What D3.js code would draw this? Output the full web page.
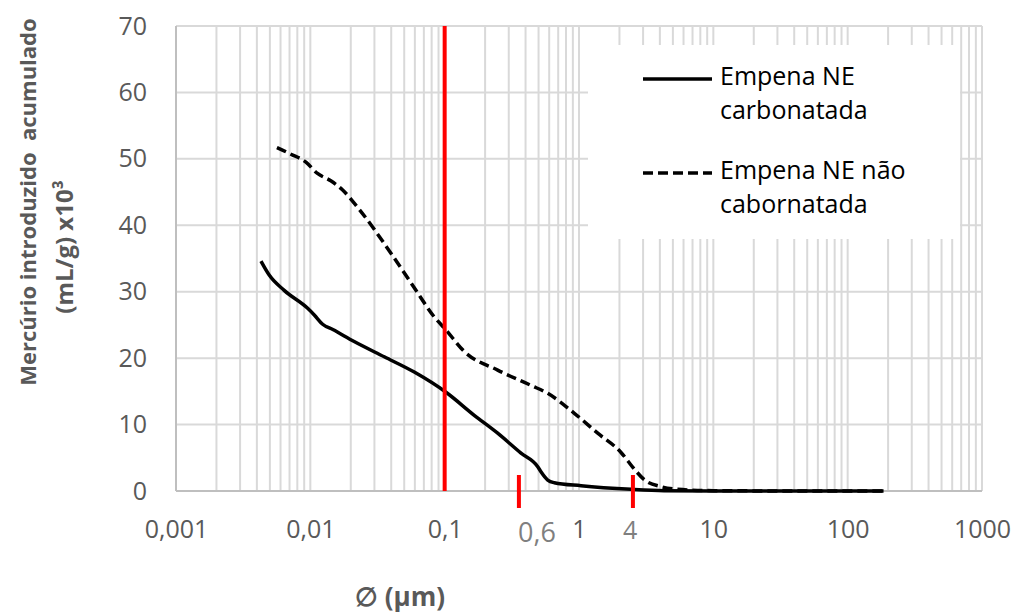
<!DOCTYPE html>
<head>
    <meta charset="utf-8">
    <script src="https://d3js.org/d3.v7.min.js"></script>
    <style>
        *{
            margin:0;
            padding:0;
        }
        html,
        body{
            background: #fff;
            font-family: 'Open Sans', sans-serif;
        }
        svg{
            display: block;
        }
        .tick text{
            font-family: 'Open Sans', sans-serif;
            font-size: 25px;
            fill: #595959;
        }
        .axis-title{
            font-family: 'Open Sans', sans-serif;
            font-weight: 700;
            fill: #595959;
        }
        .legend text{
            font-family: 'Open Sans', sans-serif;
            font-size: 25px;
            fill: #000;
        }
    </style>
</head>

<body>
<svg id="chart"></svg>

<script>

    //data
    let diamCarb = [0.00429, 0.00494, 0.00639, 0.00955, 0.0107, 0.01235, 0.0147, 0.0212, 0.0355, 0.0594, 0.1017, 0.166, 0.248, 0.370, 0.493, 0.521, 0.585, 0.655, 1.035, 2.44, 4.30, 10, 50, 185];
    let hgCarb   = [34.6, 32.5, 30.2, 27.5, 26.5, 25.1, 24.3, 22.5, 20.2, 17.9, 14.9, 11.4, 8.7, 5.7, 3.66, 2.9, 1.65, 1.25, 0.8, 0.26, 0.05, 0, 0, 0];

    let diamNaoCarb = [0.00564, 0.00717, 0.00927, 0.0113, 0.0142, 0.0174, 0.0231, 0.0398, 0.0594, 0.0837, 0.1017, 0.140, 0.248, 0.439, 0.585, 0.923, 1.378, 2.055, 2.58, 3.06, 4.08, 5.43, 10, 50, 185];
    let hgNaoCarb   = [51.7, 50.7, 49.5, 47.8, 46.7, 45.3, 42.4, 35.8, 30.6, 26.2, 24.3, 21.0, 18.2, 15.9, 14.7, 11.7, 8.7, 5.8, 3.3, 1.7, 0.65, 0.26, 0.05, 0, 0];

    let seriesNames = [["Empena NE", "carbonatada"], ["Empena NE não", "cabornatada"]];

    //axis ticks
    let xTickValues = [0.001, 0.01, 0.1, 1, 10, 100, 1000];
    let xTickLabels = ["0,001", "0,01", "0,1", "1", "10", "100", "1000"];
    let yTickValues = [0, 10, 20, 30, 40, 50, 60, 70];

    //red markers: full line + two short ticks with their hand placed labels
    let redLine = 0.1;
    let redTicks = [0.357, 2.52];
    let redLabelPos = [0.487, 2.4];
    let redLabels = ["0,6", "4"];


    //svg
    let width = 1014, height = 614;
    let svg = d3.select("#chart")
        .attr("width", width)
        .attr("height", height);

    let plot = {left: 176, right: 982, top: 26, bottom: 491};

    //scales
    let x = d3.scaleLog().domain([0.001, 1000]).range([plot.left, plot.right]);
    let y = d3.scaleLinear().domain([0, 70]).range([plot.bottom, plot.top]);


    //vertical gridlines (1..9 each decade)
    svg.append("g")
        .selectAll("line")
        .data(x.ticks())
        .enter()
        .append("line")
        .attr("x1", d => x(d))
        .attr("x2", d => x(d))
        .attr("y1", plot.top)
        .attr("y2", plot.bottom)
        .attr("stroke", "#d9d9d9")
        .attr("stroke-width", 2);

    //horizontal gridlines
    svg.append("g")
        .selectAll("line")
        .data(yTickValues)
        .enter()
        .append("line")
        .attr("x1", plot.left)
        .attr("x2", plot.right)
        .attr("y1", d => y(d))
        .attr("y2", d => y(d))
        .attr("stroke", "#d9d9d9")
        .attr("stroke-width", 2);

    //axis lines
    svg.append("line")
        .attr("x1", plot.left).attr("x2", plot.left)
        .attr("y1", plot.top).attr("y2", plot.bottom)
        .attr("stroke", "#bfbfbf").attr("stroke-width", 2);
    svg.append("line")
        .attr("x1", plot.left).attr("x2", plot.right)
        .attr("y1", plot.bottom).attr("y2", plot.bottom)
        .attr("stroke", "#bfbfbf").attr("stroke-width", 2);


    //axes (labels only)
    svg.append("g")
        .attr("transform", `translate(0,${plot.bottom})`)
        .call(d3.axisBottom(x)
            .tickValues(xTickValues)
            .tickFormat((d, i) => xTickLabels[i])
            .tickSize(0)
            .tickPadding(29));

    svg.append("g")
        .attr("transform", `translate(${plot.left},0)`)
        .call(d3.axisLeft(y)
            .tickValues(yTickValues)
            .tickSize(0)
            .tickPadding(29));

    svg.selectAll(".domain").remove();


    //legend box hides the grid behind it
    let legend = svg.append("g").attr("class", "legend");

    legend.append("rect")
        .attr("x", 588)
        .attr("y", 45)
        .attr("width", 372)
        .attr("height", 194)
        .attr("fill", "#fff");

    let legendRows = [
        {y: 79, dash: null},
        {y: 173, dash: "10,5"}
    ];

    legendRows.forEach((r, i) => {
        legend.append("line")
            .attr("x1", 643).attr("x2", 712)
            .attr("y1", r.y).attr("y2", r.y)
            .attr("stroke", "#000")
            .attr("stroke-width", 3.5)
            .attr("stroke-dasharray", r.dash);

        legend.append("text")
            .attr("x", 720)
            .attr("y", r.y + 6)
            .text(seriesNames[i][0]);

        legend.append("text")
            .attr("x", 720)
            .attr("y", r.y + 40)
            .text(seriesNames[i][1]);
    });


    //curves
    let line = d3.line()
        .x(d => x(d[0]))
        .y(d => y(d[1]))
        .curve(d3.curveMonotoneX);

    svg.append("path")
        .datum(d3.zip(diamCarb, hgCarb))
        .attr("d", line)
        .attr("fill", "none")
        .attr("stroke", "#000")
        .attr("stroke-width", 3.5);

    svg.append("path")
        .datum(d3.zip(diamNaoCarb, hgNaoCarb))
        .attr("d", line)
        .attr("fill", "none")
        .attr("stroke", "#000")
        .attr("stroke-width", 3.5)
        .attr("stroke-dasharray", "10,5");


    //red marker line at 0.1
    svg.append("line")
        .attr("x1", x(redLine)).attr("x2", x(redLine))
        .attr("y1", plot.top).attr("y2", plot.bottom)
        .attr("stroke", "#ff0000")
        .attr("stroke-width", 4);

    //short red ticks
    svg.append("g")
        .selectAll("line")
        .data(redTicks)
        .enter()
        .append("line")
        .attr("x1", d => x(d)).attr("x2", d => x(d))
        .attr("y1", 475).attr("y2", 508)
        .attr("stroke", "#ff0000")
        .attr("stroke-width", 4);

    svg.append("g")
        .selectAll("text")
        .data(redLabels)
        .enter()
        .append("text")
        .attr("x", (d, i) => x(redLabelPos[i]))
        .attr("y", (d, i) => i == 0 ? 542 : 539)
        .attr("text-anchor", "middle")
        .attr("font-family", "'Open Sans', sans-serif")
        .attr("font-size", (d, i) => i == 0 ? 27 : 25)
        .attr("fill", "#7f7f7f")
        .text(d => d);


    //axis titles
    svg.append("text")
        .attr("class", "axis-title")
        .attr("transform", "translate(36,202) rotate(-90)")
        .attr("text-anchor", "middle")
        .attr("font-size", 22)
        .attr("xml:space", "preserve")
        .text("Mercúrio introduzido  acumulado");

    svg.append("text")
        .attr("class", "axis-title")
        .attr("transform", "translate(73,247) rotate(-90)")
        .attr("text-anchor", "middle")
        .attr("font-size", 24)
        .text("(mL/g) x10³");

    svg.append("text")
        .attr("class", "axis-title")
        .attr("x", 400)
        .attr("y", 606)
        .attr("text-anchor", "middle")
        .attr("font-size", 26)
        .text("∅ (µm)");

</script>
</body>
